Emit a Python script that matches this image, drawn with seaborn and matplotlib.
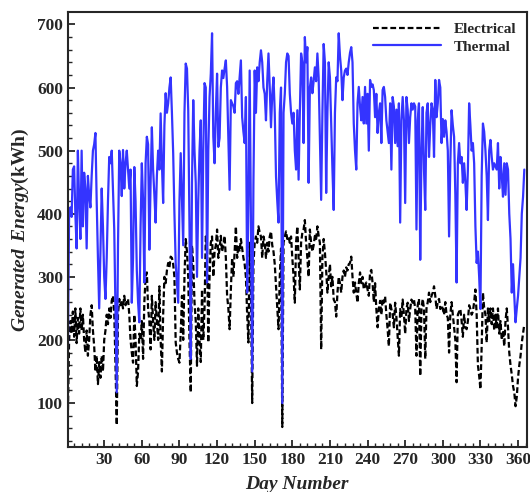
import numpy as np
import pandas as pd
import seaborn as sns
import matplotlib.pyplot as plt

# daily values (kWh)
thermal = [
    170, 400, 410, 395, 470, 475, 400, 345, 500, 420,
    360, 500, 380, 465, 440, 345, 460, 430, 410, 460,
    500, 510, 528, 420, 330, 250, 340, 440, 380, 300,
    265, 330, 420, 490, 480, 500, 440, 375, 250, 117,
    350, 500, 480, 428, 501, 440, 480, 500, 470, 440,
    470, 259, 330, 474, 420, 310, 260, 228, 380, 480,
    420, 291, 480, 522, 510, 343, 450, 537, 470, 430,
    386, 460, 500, 470, 559, 480, 417, 540, 591, 560,
    575, 600, 616, 560, 496, 400, 322, 290, 259, 420,
    496, 420, 350, 560, 638, 630, 564, 380, 170, 450,
    580, 500, 449, 300, 420, 500, 548, 330, 500, 607,
    600, 291, 500, 585, 622, 686, 522, 480, 560, 622,
    506, 520, 600, 627, 615, 630, 643, 601, 520, 438,
    580, 575, 570, 560, 607, 610, 590, 616, 643, 553,
    530, 512, 585, 275, 420, 627, 380, 150, 450, 627,
    560, 632, 610, 640, 659, 640, 600, 590, 548, 610,
    654, 600, 537, 590, 616, 560, 459, 420, 386, 560,
    600, 100, 560, 590, 640, 654, 650, 590, 560, 543,
    560, 500, 470, 564, 454, 560, 654, 640, 512, 680,
    640, 664, 449, 600, 616, 591, 610, 632, 610, 654,
    616, 520, 422, 560, 669, 640, 433, 560, 640, 616,
    540, 470, 406, 560, 616, 610, 686, 650, 627, 580,
    616, 627, 630, 620, 640, 655, 664, 640, 543, 500,
    470, 575, 601, 570, 548, 585, 543, 601, 543, 590,
    500, 612, 601, 605, 596, 553, 590, 528, 560, 575,
    512, 596, 601, 585, 548, 530, 512, 575, 470, 585,
    570, 512, 565, 507, 575, 386, 548, 585, 548, 417,
    585, 565, 512, 553, 575, 565, 575, 570, 375, 548,
    575, 327, 500, 569, 470, 406, 560, 575, 490, 540,
    575, 565, 490, 612, 553, 575, 612, 600, 512, 550,
    522, 548, 530, 500, 364, 480, 564, 540, 522, 430,
    291, 480, 512, 480, 490, 449, 480, 450, 406, 470,
    575, 540, 500, 512, 480, 380, 322, 340, 300, 249,
    460, 543, 530, 500, 460, 390, 500, 517, 490, 470,
    480, 475, 470, 512, 440, 490, 460, 427, 480, 430,
    480, 470, 400, 360, 275, 320, 270, 228, 250, 270,
    300, 330, 400, 427, 470,
]

electrical = [
    75, 200, 230, 210, 245, 205, 250, 195, 235, 210,
    250, 215, 240, 200, 180, 215, 175, 200, 240, 255,
    215, 190, 150, 175, 130, 165, 140, 175, 150, 200,
    215, 240, 225, 250, 235, 262, 270, 245, 160, 65,
    240, 265, 255, 262, 250, 270, 255, 262, 265, 240,
    200, 180, 164, 240, 200, 127, 150, 210, 200, 230,
    170, 260, 300, 307, 250, 230, 185, 270, 230, 200,
    260, 230, 200, 285, 200, 150, 240, 300, 290, 310,
    322, 315, 332, 330, 320, 300, 196, 180, 170, 164,
    210, 270, 200, 300, 360, 340, 300, 200, 117, 350,
    320, 260, 230, 159, 250, 200, 165, 280, 200, 250,
    364, 345, 196, 300, 354, 364, 300, 340, 350, 375,
    330, 345, 365, 340, 350, 365, 330, 270, 250, 217,
    280, 330, 300, 340, 380, 330, 350, 340, 360, 345,
    330, 320, 300, 240, 196, 354, 280, 100, 320, 354,
    364, 354, 380, 370, 364, 330, 364, 354, 330, 354,
    340, 364, 372, 350, 340, 320, 285, 249, 217, 300,
    345, 62, 354, 364, 372, 360, 364, 354, 364, 330,
    300, 259, 354, 380, 330, 280, 354, 370, 375, 390,
    354, 330, 300, 375, 354, 340, 350, 365, 360, 380,
    365, 354, 185, 330, 360, 338, 310, 275, 300, 320,
    285, 300, 264, 260, 237, 275, 300, 290, 275, 300,
    310, 300, 315, 310, 320, 322, 332, 300, 275, 291,
    275, 259, 290, 307, 290, 300, 280, 285, 291, 280,
    270, 307, 311, 290, 260, 290, 249, 220, 250, 262,
    240, 265, 259, 269, 240, 217, 190, 259, 249, 240,
    220, 259, 236, 205, 175, 249, 236, 264, 240, 210,
    249, 259, 230, 249, 264, 259, 264, 250, 175, 255,
    265, 143, 250, 265, 249, 170, 250, 260, 275, 260,
    270, 275, 285, 270, 249, 260, 265, 249, 255, 249,
    240, 260, 240, 235, 180, 240, 260, 240, 220, 200,
    133, 240, 245, 249, 230, 205, 240, 220, 217, 230,
    255, 249, 240, 245, 260, 280, 240, 160, 143, 122,
    190, 275, 250, 240, 196, 250, 230, 250, 225, 250,
    215, 240, 220, 250, 210, 230, 200, 215, 190, 230,
    250, 220, 180, 160, 145, 127, 117, 95, 110, 140,
    160, 175, 196, 210, 225,
]

days = np.arange(1, len(thermal) + 1)
df = pd.DataFrame({"day": days, "Electrical": electrical, "Thermal": thermal})

sns.set_style("ticks")
plt.rcParams['font.family'] = ['Liberation Serif', 'DejaVu Serif']
plt.rcParams['font.weight'] = 'bold'
plt.rcParams['mathtext.fontset'] = 'custom'
plt.rcParams['mathtext.bfit'] = 'Liberation Serif:bold:italic'
plt.rcParams['mathtext.rm'] = 'Liberation Serif:bold'

fig = plt.figure(figsize=(5.3, 4.92), dpi=100)
ax = fig.add_axes([0.128, 0.091, 0.866, 0.885])

sns.lineplot(data=df, x="day", y="Electrical", ax=ax, color="black", lw=1.6,
             dashes=False, label="Electrical")
sns.lineplot(data=df, x="day", y="Thermal", ax=ax, color="#3434ff", lw=1.6,
             label="Thermal")
ax.lines[0].set_dashes((2.6, 1.3))

ax.set_xlim(1, 367)
ax.set_ylim(30, 720)
ax.set_xticks(np.arange(30, 361, 30))
ax.set_xticks(np.arange(6, 367, 6), minor=True)
ax.set_yticks(np.arange(100, 701, 100))
ax.set_yticks(np.arange(40, 720, 20), minor=True)
ax.tick_params(axis="both", which="major", direction="in", length=5, width=1.3,
               labelsize=12.5)
ax.tick_params(axis="both", which="minor", direction="in", length=3, width=1)
for lab in ax.get_xticklabels() + ax.get_yticklabels():
    lab.set_fontweight("bold")
for s in ax.spines.values():
    s.set_linewidth(1.5)

ax.set_xlabel("Day Number", fontsize=14, fontweight="bold", fontstyle="italic",
              labelpad=6)
ax.set_ylabel(r"$\mathbfit{Generated\ Energy}$(kWh)", fontsize=14,
              fontweight="bold", labelpad=4)

leg = ax.legend(loc="upper right", frameon=False, fontsize=11, handlelength=4.5,
                borderaxespad=0.3, labelspacing=0.25)
for t in leg.get_texts():
    t.set_fontweight("bold")

fig.savefig("out.png", dpi=100)
